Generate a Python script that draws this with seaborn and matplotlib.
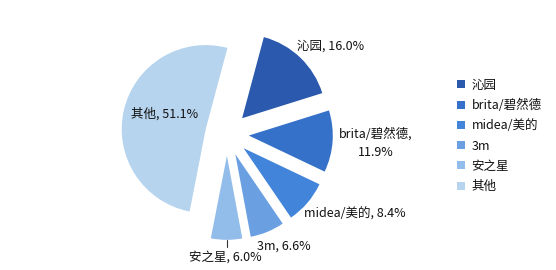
import matplotlib
matplotlib.use("Agg")
import matplotlib.pyplot as plt
import seaborn as sns
import numpy as np

# ---- data ----
categories = ["沁园", "brita/碧然德", "midea/美的", "3m", "安之星", "其他"]
shares = [16.0, 11.9, 8.4, 6.6, 6.0, 51.1]
colors = ["#2b59ad", "#3671c9", "#4384db", "#6aa0e2", "#92bce9", "#b6d4ee"]

sns.set_theme(style="white")
plt.rcParams["font.family"] = ["Noto Sans CJK SC", "DejaVu Sans"]

fig = plt.figure(figsize=(5.56, 2.70), dpi=100)
ax = fig.add_axes([0, 0, 1, 1])

explode = [0.26] * len(shares)
wedges, _ = ax.pie(shares, colors=colors, startangle=75, counterclock=False,
                   explode=explode, radius=1.0,
                   wedgeprops=dict(linewidth=0))

# pixel-matched limits: centre at (227,134) px, radius 84 px
ax.set_xlim(-227 / 84, (556 - 227) / 84)
ax.set_ylim(-(270 - 134) / 84, 134 / 84)
ax.set_aspect("auto")
ax.axis("off")

def px(x, y):
    return (x - 227) / 84, (134 - y) / 84

labels = [f"{c}, {v:.1f}%" for c, v in zip(categories, shares)]
fs = 9
tc = "#111111"
# 沁园
ax.text(*px(297, 46), labels[0], ha="left", va="center", fontsize=fs, color=tc)
# brita (two lines)
ax.text(*px(376, 143), f"{categories[1]},\n{shares[1]:.1f}%", ha="center",
        va="center", fontsize=fs, color=tc, linespacing=1.45)
# midea
ax.text(*px(304, 214), labels[2], ha="left", va="center", fontsize=fs, color=tc)
# 3m
ax.text(*px(257, 246), labels[3], ha="left", va="center", fontsize=fs, color=tc)
# 安之星 with leader line
w = wedges[4]
mid = np.deg2rad((w.theta1 + w.theta2) / 2)
cx, cy = w.center
ex, ey = cx + w.r * np.cos(mid), cy + w.r * np.sin(mid)
ax.plot([ex, ex], [ey, px(0, 247)[1]], color="#333333", linewidth=0.8)
ax.text(*px(189, 257), labels[4], ha="left", va="center", fontsize=fs, color=tc)
# 其他
ax.text(*px(165, 114), labels[5], ha="center", va="center", fontsize=fs, color=tc)

leg = fig.legend(wedges, categories, loc="upper left",
                 bbox_to_anchor=(457 / 556, 1 - 78.5 / 270), frameon=False,
                 fontsize=fs, handlelength=0.62, handleheight=0.62,
                 handletextpad=0.55, labelspacing=0.58, borderpad=0,
                 borderaxespad=0)
for t in leg.get_texts():
    t.set_color(tc)

fig.savefig("out.png", dpi=100)
